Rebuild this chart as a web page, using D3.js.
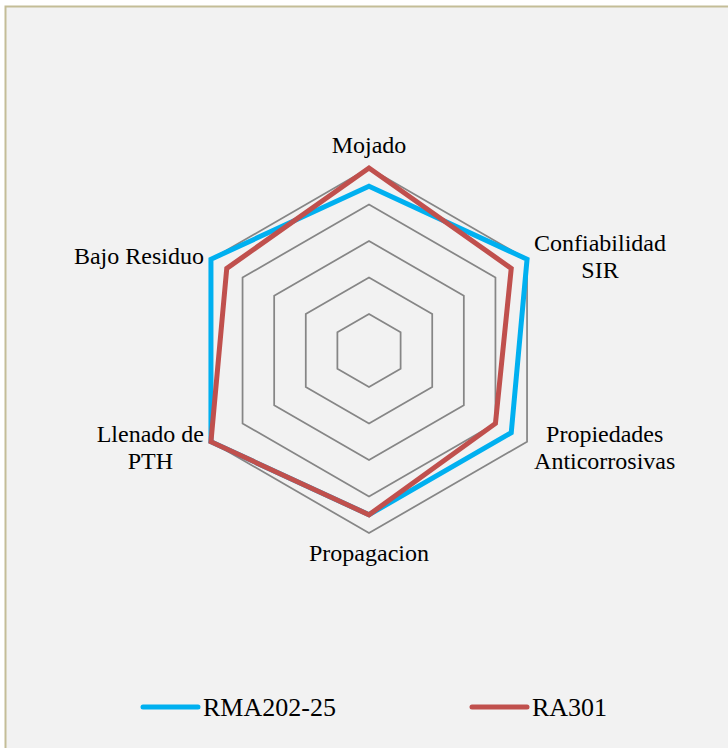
<!DOCTYPE html>
<meta charset="utf-8">
<script src="https://d3js.org/d3.v7.min.js"></script>
<style>
  body { margin: 0; background: #fff; }
</style>
<div id="chart"></div>
<script>
  // axes of the radar (clockwise from top), label lines
  const axes = [["Mojado"], ["Confiabilidad", "SIR"], ["Propiedades", "Anticorrosivas"],
                ["Propagacion"], ["Llenado de", "PTH"], ["Bajo Residuo"]];
  const seriesNames = ["RMA202-25", "RA301"];
  const rma = [9, 10, 9, 9, 10, 10];
  const ra301 = [10, 9, 8, 9, 10, 9];
  const gridTicks = [2, 4, 6, 8, 10];

  const W = 728, H = 748;
  const cx = 369, cy = 350.5, R = 182.5;
  const colors = ["#00b0f0", "#c0504d"];
  const serif = "'Liberation Serif', 'DejaVu Serif', serif";

  const svg = d3.select("#chart").append("svg")
    .attr("width", W).attr("height", H)
    .attr("font-family", serif);

  // chart area with tan border
  svg.append("rect")
    .attr("x", 5.5).attr("y", 6.5).attr("width", W + 10).attr("height", H + 10)
    .attr("fill", "#f2f2f2").attr("stroke", "#c4bd97").attr("stroke-width", 2);

  const r = d3.scaleLinear().domain([0, 10]).range([0, R]);
  const angle = i => i * 2 * Math.PI / axes.length;

  const g = svg.append("g").attr("transform", `translate(${cx},${cy})`);

  const radial = d3.lineRadial()
    .angle((d, i) => angle(i))
    .radius(d => r(d))
    .curve(d3.curveLinearClosed);

  // grid hexagons
  g.selectAll(".grid")
    .data(gridTicks)
    .join("path")
    .attr("class", "grid")
    .attr("d", t => radial(axes.map(() => t)))
    .attr("fill", "none")
    .attr("stroke", "#868686")
    .attr("stroke-width", 1.75);

  // series
  g.selectAll(".series")
    .data([rma, ra301])
    .join("path")
    .attr("class", "series")
    .attr("d", d => radial(d))
    .attr("fill", "none")
    .attr("stroke", (d, i) => colors[i])
    .attr("stroke-width", 5)
    .attr("stroke-linejoin", "miter");

  // category labels
  const fs = 24, lh = 27;
  axes.forEach(function (lines, i) {
    const a = angle(i);
    const vx = Math.sin(a) * r(10), vy = -Math.cos(a) * r(10);
    const t = g.append("text")
      .attr("font-family", serif)
      .attr("font-size", fs)
      .attr("fill", "#000")
      .attr("text-anchor", "middle");
    const spans = lines.map((s, j) => t.append("tspan").text(s));
    const maxW = d3.max(spans, s => s.node().getComputedTextLength());
    let x, y0;
    if (Math.abs(Math.sin(a)) < 0.01) {
      x = vx;
      y0 = vy < 0 ? vy - 15 : vy + 28;
    } else {
      x = vx > 0 ? vx + 7 + maxW / 2 : vx - 7 - maxW / 2;
      const mid = vy < 0 ? vy - 3 : vy + 6;
      y0 = mid - (lines.length - 1) * lh / 2 + 8;
    }
    spans.forEach((s, j) => s.attr("x", x).attr("y", y0 + j * lh));
  });

  // legend
  const legX = [143, 472];
  const leg = svg.selectAll(".leg")
    .data(seriesNames)
    .join("g")
    .attr("class", "leg")
    .attr("transform", (d, i) => `translate(${legX[i]},707)`);
  leg.append("line")
    .attr("x1", 0).attr("x2", 55)
    .attr("stroke", (d, i) => colors[i])
    .attr("stroke-width", 5)
    .attr("stroke-linecap", "round");
  leg.append("text")
    .attr("x", 60).attr("y", 9)
    .attr("font-family", serif)
    .attr("font-size", 26)
    .attr("fill", "#000")
    .text(d => d);
</script>
